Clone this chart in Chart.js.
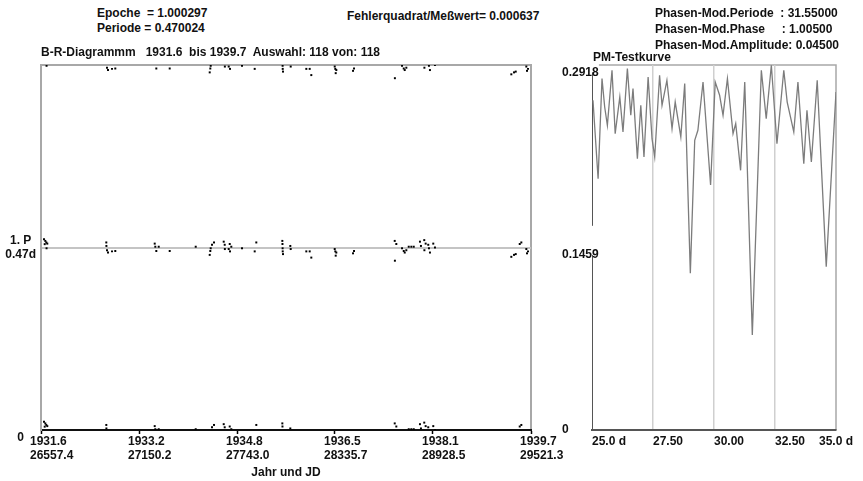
<!DOCTYPE html>
<html>
<head>
<meta charset="utf-8">
<script src="https://cdn.jsdelivr.net/npm/chart.js@4.4.1/dist/chart.umd.min.js"></script>
<style>
  body { margin:0; background:#fff; width:863px; height:481px; overflow:hidden; position:relative;
         font-family:"Liberation Sans", Arial, sans-serif; }
  .t { position:absolute; z-index:2; font-weight:bold; font-size:12px; line-height:15px; color:#111; white-space:pre; }
  #leftBox { position:absolute; left:0; top:55px; }
  #rightBox { position:absolute; left:562px; top:55px; }
</style>
</head>
<body>
<div class="t" style="left:97px; top:6px;">Epoche  = 1.000297
Periode = 0.470024</div>
<div class="t" style="left:347px; top:9px;">Fehlerquadrat/Meßwert= 0.000637</div>
<div class="t" style="left:655px; top:5px; line-height:16px;">Phasen-Mod.Periode  : 31.55000
Phasen-Mod.Phase     : 1.00500
Phasen-Mod.Amplitude: 0.04500</div>
<div class="t" style="left:41px; top:45px;">B-R-Diagrammm   1931.6  bis 1939.7  Auswahl: 118 von: 118</div>
<div class="t" style="left:593px; top:50px;">PM-Testkurve</div>

<canvas id="leftBox" width="580" height="426"></canvas>
<canvas id="rightBox" width="301" height="426"></canvas>

<script>
//////////////// B-R data
const period = 0.470024;

const yearLabels = ['1931.6', '1933.2', '1934.8', '1936.5', '1938.1', '1939.7'];
const jdLabels = ['26557.4', '27150.2', '27743.0', '28335.7', '28928.5', '29521.3'];

// observation times (JD - 2400000) and B-R residuals in days
const obsJD = [
  26575.5, 26583.4, 26589.5, 26595.5, 26579.8, 26591.0,
  26952.4, 26953.0, 26956.6, 26962.7, 26986.9, 27006.8,
  27245.2, 27248.8, 27254.9, 27269.4,
  27335.9, 27493.2,
  27577.9, 27581.5, 27583.9, 27591.8, 27603.9,
  27662.6, 27668.6, 27669.5, 27692.8, 27698.9, 27700.7, 27708.5,
  27773.3, 27850.0, 27859.7,
  28017.2, 28018.0, 28018.8, 28019.5, 28021.3, 28065.4, 28067.8,
  28162.2, 28182.7, 28192.4,
  28334.0, 28337.6, 28340.0, 28343.7,
  28444.8, 28450.8,
  28697.0, 28698.0, 28706.6, 28741.2, 28751.5, 28757.5, 28767.2, 28781.7, 28797.5, 28812.0,
  28849.6, 28855.6, 28875.6, 28884.1, 28876.5, 28899.8, 28904.0, 28910.1, 28930.1, 28940.4,
  29402.3, 29418.6, 29428.9, 29453.1, 29462.8, 29493.0, 29497.2, 29503.2
];
const residuals = [
  0.0215, 0.017, 0.013, 0.010, 0.0086, -0.002,
  0.013, 0.004, -0.007, -0.013, -0.010, -0.009,
  0.010, 0.002, -0.009, 0.002,
  -0.009, 0.002,
  -0.019, -0.009, -0.002, 0.007, 0.013,
  0.015, 0.007, -0.004, -0.004, 0.009, -0.010, 0.002,
  -0.002, -0.010, 0.013,
  0.017, 0.009, -0.002, -0.010, -0.017, 0.004, -0.004,
  -0.010, -0.010, -0.026,
  -0.004, -0.010, -0.021, -0.013,
  -0.015, -0.009,
  0.017, -0.034, 0.009, -0.002, -0.009, -0.013, -0.007, 0.002, 0.002, 0.002,
  0.015, 0.004, 0.019, 0.010, -0.007, 0.007, -0.002, -0.013, 0.010, 0.000,
  -0.024, -0.019, -0.017, 0.009, 0.013, -0.004, -0.015, -0.010
];

//////////////// PM-Testkurve data
const pmDays = [25.04, 25.25, 25.41, 25.52, 25.63, 25.82, 25.95, 26.14, 26.27, 26.45,
  26.59, 26.68, 26.86, 27.00, 27.13, 27.30, 27.46, 27.57, 27.77, 27.87,
  28.07, 28.28, 28.41, 28.64, 28.80, 29.03, 29.21, 29.34, 29.55, 29.86,
  30.05, 30.23, 30.37, 30.55, 30.78, 30.89, 31.09, 31.26, 31.57, 31.94,
  32.14, 32.35, 32.58, 32.86, 33.00, 33.27, 33.44, 33.68, 33.81, 33.99,
  34.23, 34.60, 35.00];
const pmValues = [0.2636, 0.2009, 0.2809, 0.2582, 0.2436, 0.2876, 0.2369, 0.2662, 0.2383, 0.2889,
  0.2516, 0.2729, 0.2169, 0.2596, 0.2183, 0.2822, 0.2329, 0.2183, 0.2836, 0.2596,
  0.2796, 0.2409, 0.2622, 0.2343, 0.2769, 0.1253, 0.2316, 0.2396, 0.2782, 0.1959,
  0.2782, 0.2676, 0.2516, 0.2809, 0.2369, 0.2449, 0.2076, 0.2782, 0.0760, 0.2876,
  0.2489, 0.2916, 0.2289, 0.2876, 0.2622, 0.2383, 0.2782, 0.2129, 0.2556, 0.2143,
  0.2796, 0.1306, 0.2702];

const pmTicks = [25, 27.5, 30, 32.5, 35];
const pmTickLabels = ['25.0 d', '27.50', '30.00', '32.50', '35.0 d'];
const pmYTicks = [0, 0.1459, 0.2918];
const pmYLabels = ['0', '0.1459', '0.2918'];

const tickFont = { family: 'Liberation Sans, Arial, sans-serif', size: 12, weight: 'bold' };

// top + right frame lines of the plot box
const framePlugin = {
  id: 'frame',
  beforeDraw(chart, args, opts) {
    const { ctx, chartArea: a } = chart;
    ctx.save();
    ctx.strokeStyle = opts.color;
    ctx.lineWidth = opts.width;
    ctx.beginPath();
    ctx.moveTo(a.left, a.top);
    ctx.lineTo(a.right, a.top);
    ctx.lineTo(a.right, a.bottom);
    ctx.stroke();
    ctx.restore();
  }
};

//////////////// left: B-R diagram, each residual shown at r, r+P, r+2P
let brPoints = [];
for (let k = 0; k < 3; k++) {
  obsJD.forEach((jd, i) => {
    const y = residuals[i] + k * period;
    if (y >= 0 && y <= 2 * period) brPoints.push({ x: jd, y: y });
  });
}

new Chart(document.getElementById('leftBox'), {
  type: 'scatter',
  data: {
    datasets: [{
      data: brPoints,
      pointStyle: 'rect',
      pointRadius: 1.4,
      pointBorderWidth: 0,
      backgroundColor: '#000',
    }]
  },
  options: {
    responsive: false,
    animation: false,
    events: [],
    layout: { padding: { top: 10, right: 49, bottom: 0, left: 0 } },
    plugins: { legend: { display: false }, tooltip: { enabled: false },
               frame: { color: '#a8a8a8', width: 2 } },
    scales: {
      x: {
        type: 'linear',
        min: Number(jdLabels[0]),
        max: Number(jdLabels[jdLabels.length - 1]),
        afterBuildTicks: s => { s.ticks = jdLabels.map(v => ({ value: Number(v) })); },
        afterFit: s => { s.height = 51; s.paddingLeft = 0; s.paddingRight = 0; },
        grid: { drawOnChartArea: false, drawTicks: true, tickLength: 4, tickColor: '#000', tickWidth: 1.5 },
        border: { display: true, color: '#111', width: 2 },
        ticks: {
          align: 'start', labelOffset: -11, padding: 0, color: '#111', font: tickFont, maxRotation: 0,
          autoSkip: false,
          callback: (v, i) => [yearLabels[i], jdLabels[i]]
        },
        title: { display: true, text: 'Jahr und JD', color: '#111', font: tickFont, padding: { top: 0, bottom: 1 } }
      },
      y: {
        min: 0,
        max: 2 * period,
        afterBuildTicks: s => { s.ticks = [0, period, 2 * period].map(v => ({ value: v })); },
        afterFit: s => { s.width = 41; s.paddingTop = 0; s.paddingBottom = 0; },
        grid: {
          drawTicks: false,
          lineWidth: 2,
          color: c => (c.tick && Math.abs(c.tick.value - period) < 1e-6) ? '#c4c4c4' : 'transparent'
        },
        border: { display: true, color: '#a8a8a8', width: 2 },
        ticks: {
          crossAlign: 'center', padding: 5, color: '#111', font: tickFont, autoSkip: false,
          callback: (v, i) => [['', '0'], ['1. P', period.toFixed(2) + 'd'], ''][i]
        }
      }
    }
  },
  plugins: [framePlugin]
});

//////////////// right: PM-Testkurve
const pmLabelPlugin = {
  id: 'pmLabels',
  beforeDraw(chart) {
    const items = chart.scales.x.getLabelItems();
    const last = items[items.length - 1];
    if (last) last.options.textAlign = 'center';
  }
};

new Chart(document.getElementById('rightBox'), {
  type: 'line',
  data: {
    datasets: [{
      data: pmDays.map((d, i) => ({ x: d, y: pmValues[i] })),
      borderColor: '#7c7c7c',
      borderWidth: 1.3,
      pointRadius: 0,
      tension: 0,
      fill: false
    }]
  },
  options: {
    responsive: false,
    animation: false,
    events: [],
    layout: { padding: { top: 10, right: 27, bottom: 0, left: 0 } },
    plugins: { legend: { display: false }, tooltip: { enabled: false },
               frame: { color: '#a8a8a8', width: 1.5 } },
    scales: {
      x: {
        type: 'linear',
        min: 25,
        max: 35,
        afterBuildTicks: s => { s.ticks = pmTicks.map(v => ({ value: v })); },
        afterFit: s => { s.height = 51; s.paddingLeft = 0; s.paddingRight = 0; },
        grid: {
          drawTicks: false,
          lineWidth: 1.5,
          color: c => (c.tick && c.tick.value > 25 && c.tick.value < 35) ? '#cfcfcf' : 'transparent'
        },
        border: { display: true, color: '#555', width: 2 },
        ticks: {
          align: 'start', padding: 4, color: '#111', font: tickFont, maxRotation: 0, autoSkip: false,
          callback: (v, i) => pmTickLabels[i]
        }
      },
      y: {
        min: 0,
        max: 0.2918,
        afterBuildTicks: s => { s.ticks = pmYTicks.map(v => ({ value: v })); },
        afterFit: s => { s.width = 30; s.paddingTop = 0; s.paddingBottom = 0; },
        grid: { display: false, drawTicks: false },
        border: { display: true, color: '#555', width: 1 },
        ticks: {
          mirror: true, crossAlign: 'near', padding: -30, color: '#111', font: tickFont, autoSkip: false,
          showLabelBackdrop: true, backdropColor: '#fff', backdropPadding: 0,
          callback: (v, i) => i === 0 ? pmYLabels[i] : ['', pmYLabels[i]]
        }
      }
    }
  },
  plugins: [framePlugin, pmLabelPlugin]
});
</script>
</body>
</html>
